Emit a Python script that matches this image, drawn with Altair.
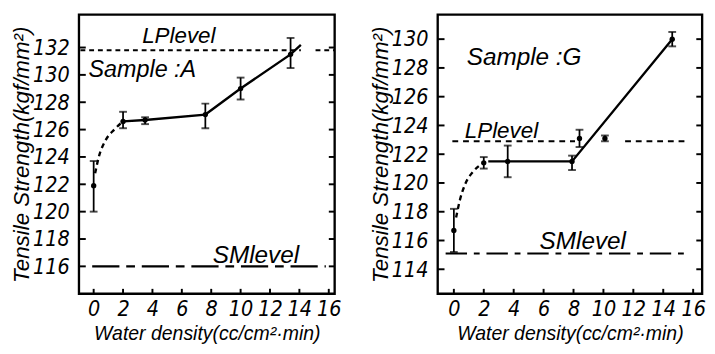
import altair as alt
import pandas as pd

FONT = "Liberation Sans"
NARROW = "Liberation Sans Narrow, DejaVu Sans Condensed, Liberation Sans"

# ---------------- Sample A ----------------
a_x = [0, 2, 3.5, 7.6, 10, 13.4]
a_y = [121.9, 126.6, 126.7, 127.1, 129.0, 131.5]
a_lo = [120.0, 126.1, 126.4, 126.1, 128.2, 130.5]
a_hi = [123.7, 127.3, 126.9, 127.9, 129.8, 132.7]
a_dash_x = [0.1, 0.35, 0.8, 1.4, 2.0]
a_dash_y = [122.8, 124.0, 125.2, 126.0, 126.6]
a_line_x = [2.0, 3.5, 7.6, 10.0, 13.4, 14.1]
a_line_y = [126.6, 126.7, 127.1, 129.0, 131.5, 132.2]
a_lp = 131.8
a_lp_from = [-0.9, 15.1]
a_lp_to = [14.1, 16.4]
a_sm = 116.0
a_sm_from = [-0.1]
a_sm_to = [15.8]
a_yticks = [116, 118, 120, 122, 124, 126, 128, 130, 132]
a_ydom = [114.0, 134.4]
a_xdom = [-1.0, 16.4]
a_text = ["LPlevel", "Sample :A", "SMlevel"]
a_text_x = [3.3, -0.35, 8.1]
a_text_y = [132.3, 129.85, 116.25]
a_text_size = [23, 24, 25]

# ---------------- Sample G ----------------
g_x = [0, 2, 3.6, 7.9, 8.4, 10.1, 14.6]
g_y = [116.7, 121.4, 121.5, 121.5, 123.1, 123.1, 130.0]
g_lo = [115.2, 121.0, 120.4, 120.9, 122.5, 122.9, 129.5]
g_hi = [118.2, 121.8, 122.6, 121.9, 123.7, 123.3, 130.5]
g_dash_x = [0.15, 0.4, 0.75, 1.3, 2.0]
g_dash_y = [117.6, 118.8, 119.9, 120.8, 121.4]
g_line_x = [2.3, 7.9, 14.6]
g_line_y = [121.5, 121.5, 130.0]
g_lp = 122.9
g_lp_from = [-0.1, 11.45]
g_lp_to = [8.1, 15.6]
g_sm = 115.1
g_sm_from = [-0.55]
g_sm_to = [15.7]
g_yticks = [114, 116, 118, 120, 122, 124, 126, 128, 130]
g_ydom = [112.3, 131.7]
g_xdom = [-1.08, 16.6]
g_text = ["Sample :G", "LPlevel", "SMlevel"]
g_text_x = [0.86, 0.73, 5.73]
g_text_y = [128.2, 123.15, 115.4]
g_text_size = [25, 23, 25]

x_ticks = [0, 2, 4, 6, 8, 10, 12, 14, 16]
Y_TITLE = "Tensile Strength(kgf/mm²)"
X_TITLE = "Water density(cc/cm²·min)"


def panel(xs, ys, lo, hi, dx, dy, lx, ly, lp, lp_from, lp_to, sm, sm_from, sm_to,
          yticks, ydom, xdom, texts, tx, ty, tsize, w, h, sm_dash, lp_dash):
    xs_scale = alt.Scale(domain=xdom, nice=False, zero=False)
    ys_scale = alt.Scale(domain=ydom, nice=False, zero=False)
    x_axis = alt.Axis(values=x_ticks, format="d", ticks=False, domain=False, grid=False,
                      labelFont=NARROW, labelFontSize=22, labelFontStyle="italic",
                      labelColor="black", labelPadding=5,
                      minExtent=31, maxExtent=31,
                      title=X_TITLE, titleFont=FONT, titleFontSize=20,
                      titleFontStyle="italic", titleFontWeight="normal",
                      titleColor="black", titlePadding=0)
    y_axis = alt.Axis(values=yticks, ticks=False, domain=False, grid=False,
                      labelFont=NARROW, labelFontSize=22, labelFontStyle="italic",
                      labelColor="black", labelPadding=10,
                      minExtent=42, maxExtent=42,
                      title=Y_TITLE, titleFont=FONT, titleFontSize=23,
                      titleFontStyle="italic", titleFontWeight="normal",
                      titleColor="black", titlePadding=5)
    pts = pd.DataFrame({"x": xs, "y": ys, "lo": lo, "hi": hi})
    dash = pd.DataFrame({"x": dx, "y": dy})
    line = pd.DataFrame({"x": lx, "y": ly})
    lpdf = pd.DataFrame({"x": lp_from, "x2": lp_to, "y": [lp] * len(lp_from)})
    smdf = pd.DataFrame({"x": sm_from, "x2": sm_to, "y": [sm] * len(sm_from)})
    ytk = pd.DataFrame({"y": yticks})
    xtk = pd.DataFrame({"x": x_ticks})
    txt = pd.DataFrame({"t": texts, "x": tx, "y": ty, "s": tsize})

    def X(f="x"):
        return alt.X(f"{f}:Q", scale=xs_scale, axis=x_axis, title=X_TITLE)

    def Y(f="y"):
        return alt.Y(f"{f}:Q", scale=ys_scale, axis=y_axis, title=Y_TITLE)

    pts_l = alt.Chart(pts).mark_point(filled=True, color="black", size=30, opacity=1).encode(
        x=X(), y=Y())
    err = alt.Chart(pts).mark_rule(color="black", strokeWidth=1.8).encode(
        x=X(), y=Y("lo"), y2="hi:Q")
    cap_lo = alt.Chart(pts).mark_tick(color="black", orient="horizontal", size=8, thickness=2).encode(
        x=X(), y=Y("lo"))
    cap_hi = alt.Chart(pts).mark_tick(color="black", orient="horizontal", size=8, thickness=2).encode(
        x=X(), y=Y("hi"))
    dashed = alt.Chart(dash).mark_line(color="black", strokeWidth=2.4, strokeDash=[5, 4],
                                       interpolate="monotone").encode(x=X(), y=Y())
    solid = alt.Chart(line).mark_line(color="black", strokeWidth=2.4).encode(x=X(), y=Y())
    lpr = alt.Chart(lpdf).mark_rule(color="black", strokeWidth=2.2, strokeDash=lp_dash).encode(
        x=X(), x2="x2:Q", y=Y())
    smr = alt.Chart(smdf).mark_rule(color="black", strokeWidth=2.2, strokeDash=sm_dash).encode(
        x=X(), x2="x2:Q", y=Y())
    ltick = alt.Chart(ytk).mark_rule(color="black", strokeWidth=2).encode(
        y=Y(), x=alt.value(0), x2=alt.value(7))
    rtick = alt.Chart(ytk).mark_rule(color="black", strokeWidth=2).encode(
        y=Y(), x=alt.value(w - 6), x2=alt.value(w))
    btick = alt.Chart(xtk).mark_rule(color="black", strokeWidth=2).encode(
        x=X(), y=alt.value(h - 5), y2=alt.value(h))
    labels = alt.Chart(txt).mark_text(align="left", baseline="alphabetic", font=FONT,
                                      fontStyle="italic", color="black").encode(
        x=X(), y=Y(), text="t:N",
        size=alt.Size("s:Q", scale=None, legend=None))
    return alt.layer(pts_l, err, cap_lo, cap_hi, dashed, solid, lpr, smr,
                     ltick, rtick, btick, labels).properties(width=w, height=h)


W_A, W_G, H = 263, 272, 287
left = panel(a_x, a_y, a_lo, a_hi, a_dash_x, a_dash_y, a_line_x, a_line_y,
             a_lp, a_lp_from, a_lp_to, a_sm, a_sm_from, a_sm_to,
             a_yticks, a_ydom, a_xdom, a_text, a_text_x, a_text_y, a_text_size,
             W_A, H, [28, 7, 9, 7], [5, 4])
right = panel(g_x, g_y, g_lo, g_hi, g_dash_x, g_dash_y, g_line_x, g_line_y,
              g_lp, g_lp_from, g_lp_to, g_sm, g_sm_from, g_sm_to,
              g_yticks, g_ydom, g_xdom, g_text, g_text_x, g_text_y, g_text_size,
              W_G, H, [22, 7, 6, 7], [6, 5])

chart = alt.hconcat(left, right, spacing=26).properties(
    padding={"left": 1, "top": 0, "right": 0, "bottom": 0},
    background="white",
).configure_view(stroke="black", strokeWidth=2.4)

chart.save("out.html", embed_options={"renderer": "svg", "actions": False})
